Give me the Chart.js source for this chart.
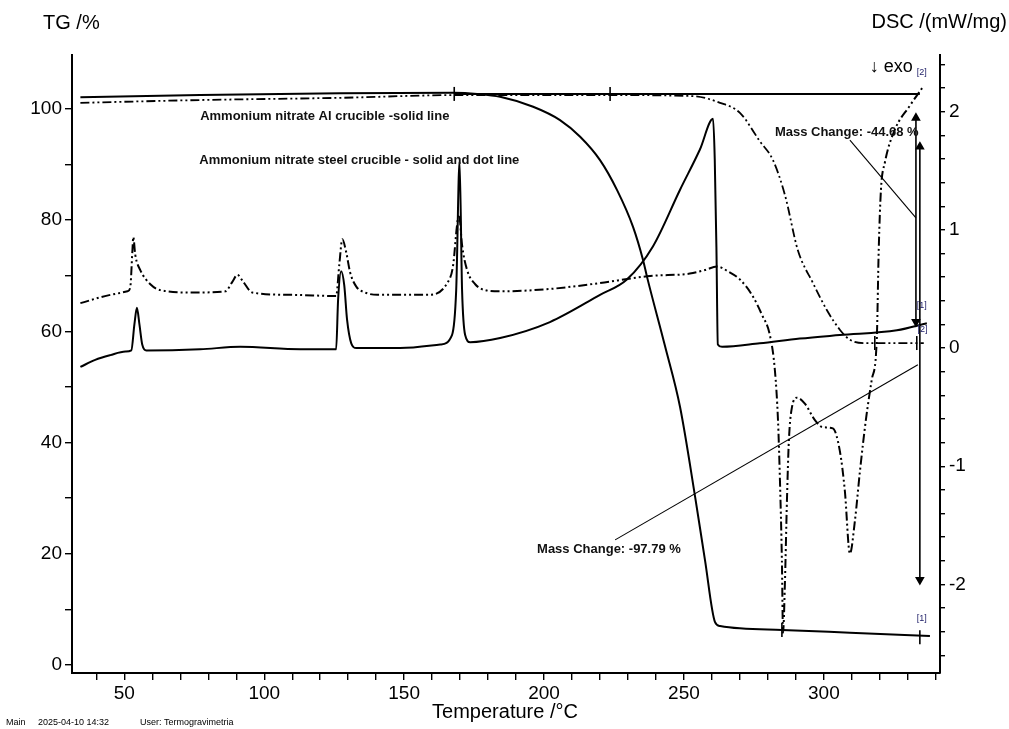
<!DOCTYPE html>
<html>
<head>
<meta charset="utf-8">
<title>TG / DSC ammonium nitrate</title>
<script src="https://cdn.jsdelivr.net/npm/chart.js@4"></script>
<style>
  html, body { margin: 0; padding: 0; background: #fff; }
  #wrap { width: 1009px; height: 729px; }
</style>
</head>
<body>
<div id="wrap"><canvas id="chart" width="1009" height="729"></canvas></div>
<script>
// TG, Al crucible (solid line)
const tgAlTemp = [34.3, 77.1, 127.1, 167.9, 176.1, 184.3, 196.1, 205.7, 212.9, 220.0, 226.1, 231.8, 235.4, 236.8, 243.2, 248.6, 254.0, 257.5, 261.1, 262.9, 285.0, 309.3, 337.9];
const tgAl     = [102.1, 102.5, 102.8, 102.9, 102.7, 102.2, 100.4, 98.0, 95.0, 90.8, 85.4, 78.8, 72.8, 69.8, 57.4, 46.4, 30.2, 18.9, 7.7, 7.0, 6.3, 5.8, 5.2];

// TG, steel crucible (dash-dot line)
const tgSteelTemp = [34.3, 77.1, 127.1, 170.0, 220.0, 253.2, 262.9, 270.0, 277.1, 281.8, 286.1, 290.7, 296.1, 301.1, 305.7, 309.3, 314.6, 335.7];
const tgSteel     = [101.1, 101.6, 102.0, 102.5, 102.5, 102.3, 101.1, 99.3, 94.2, 90.8, 84.5, 74.6, 68.7, 63.8, 60.3, 58.5, 57.9, 57.9];

// DSC, Al crucible (solid line)
const dscAlTemp = [34.3, 39.6, 45.0, 50.4, 52.5, 53.6, 54.5, 55.4, 56.4, 57.9, 77.1, 91.4, 112.9, 125.7, 126.4, 127.5, 128.6, 129.6, 131.1, 132.9, 148.6, 162.9, 167.1, 168.6, 169.8, 170.7, 171.8, 173.6, 184.3, 202.1, 220.0, 229.6, 238.9, 248.6, 255.7, 260.4, 261.0, 261.6, 262.1, 263.6, 277.1, 291.4, 305.7, 326.1, 336.8];
const dscAl     = [-0.16, -0.10, -0.06, -0.03, -0.02, 0.20, 0.34, 0.20, 0.03, -0.02, -0.01, 0.01, -0.01, -0.01, 0.41, 0.65, 0.53, 0.24, 0.04, 0.0, 0.0, 0.03, 0.11, 0.49, 1.58, 0.49, 0.11, 0.05, 0.085, 0.22, 0.45, 0.58, 0.86, 1.34, 1.68, 1.94, 1.6, 0.85, 0.03, 0.01, 0.04, 0.08, 0.11, 0.15, 0.21];

// DSC, steel crucible (dash-dot line)
const dscSteelTemp = [34.3, 45.0, 51.1, 52.1, 52.9, 53.2, 53.9, 55.7, 59.3, 62.9, 74.6, 86.1, 88.6, 90.4, 92.5, 95.7, 110.4, 125.7, 126.8, 127.9, 129.3, 130.7, 132.9, 136.1, 140.4, 158.2, 165.4, 167.5, 168.9, 169.6, 170.7, 172.5, 175.4, 179.0, 184.3, 202.1, 220.0, 237.9, 252.1, 257.5, 261.8, 265.7, 270.0, 274.3, 277.9, 280.7, 282.5, 283.6, 284.3, 285.0, 285.4, 286.1, 286.8, 287.5, 288.6, 290.4, 293.2, 296.8, 299.6, 303.2, 305.7, 307.5, 309.3, 311.1, 312.9, 315.0, 317.1, 318.9, 319.6, 320.4, 321.8, 325.4, 330.7, 335.7];
const dscSteel     = [0.38, 0.45, 0.48, 0.51, 0.83, 0.94, 0.79, 0.66, 0.54, 0.49, 0.47, 0.48, 0.56, 0.62, 0.56, 0.47, 0.45, 0.44, 0.70, 0.92, 0.81, 0.64, 0.52, 0.47, 0.45, 0.45, 0.55, 0.70, 1.04, 1.13, 0.87, 0.66, 0.54, 0.49, 0.48, 0.50, 0.55, 0.61, 0.63, 0.66, 0.69, 0.65, 0.58, 0.45, 0.28, 0.11, -0.19, -0.61, -1.12, -1.80, -2.41, -1.97, -1.29, -0.78, -0.50, -0.42, -0.47, -0.61, -0.67, -0.68, -0.87, -1.21, -1.74, -1.46, -1.04, -0.61, -0.27, 0.07, 0.83, 1.34, 1.57, 1.85, 2.05, 2.22];

// tick labels
const tempLabels = [50, 100, 150, 200, 250, 300];
const tgLabels = [0, 20, 40, 60, 80, 100];
const dscLabels = [-2, -1, 0, 1, 2];

// mass change evaluation (TG units)
const evalLineTemp = [167.9, 334.3];
const evalLineTg = [102.7, 102.7];
const evalMarkTemp = [167.9, 223.6, 285.0, 318.2, 333.2, 334.3];
const evalMarkTg = [102.7, 102.7, 6.3, 57.9, 57.9, 5.0];
const arrowSteelTemp = [332.9, 332.9];
const arrowSteelTg = [98.4, 61.7];
const arrowAlTemp = [334.3, 334.3];
const arrowAlTg = [93.2, 15.3];
const leaderSteelTemp = [309.3, 332.9];
const leaderSteelTg = [94.4, 80.4];
const leaderAlTemp = [225.4, 333.6];
const leaderAlTg = [22.5, 54.0];

// annotation texts
const noteTexts = ['Ammonium nitrate Al crucible -solid line', 'Ammonium nitrate steel crucible - solid and dot line', 'Mass Change: -44.68 %', 'Mass Change: -97.79 %'];
const noteTemp = [77.1, 76.8, 282.5, 197.5];
const noteTg = [98.6, 90.8, 95.7, 20.7];
const tagTexts = ['[2]', '[1]', '[2]', '[1]'];
const tagTemp = [333.2, 333.2, 333.5, 333.2];
const tagTg = [106.5, 64.7, 60.4, 8.3];

const pts = (xs, ys) => xs.map((x, i) => ({ x: x, y: ys[i] }));
const FONT = '"Liberation Sans", Arial, sans-serif';
const dashDot = [9, 3, 2, 3, 2, 3];

const curve = (data, axis, dashed, width) => ({
    data: data,
    yAxisID: axis,
    borderColor: '#000',
    borderWidth: width,
    borderDash: dashed ? dashDot : [],
    pointRadius: 0,
    cubicInterpolationMode: 'monotone',
    fill: false
});

const plain = (data, width) => ({
    data: data,
    yAxisID: 'tg',
    borderColor: '#000',
    borderWidth: width,
    pointRadius: 0,
    tension: 0,
    fill: false
});

const arrow = (data) => ({
    data: data,
    yAxisID: 'tg',
    borderColor: '#000',
    backgroundColor: '#000',
    borderWidth: 1.6,
    pointStyle: 'triangle',
    pointRadius: 4,
    pointRotation: [0, 180],
    tension: 0,
    fill: false
});

const textPlugin = {
    id: 'texts',
    afterDraw(chart) {
        const ctx = chart.ctx;
        const sx = chart.scales.x, sy = chart.scales.tg;
        ctx.save();
        ctx.fillStyle = '#000';
        ctx.textBaseline = 'middle';
        ctx.font = '20px ' + FONT;
        ctx.textAlign = 'left';
        ctx.fillText('TG /%', 43, 23);
        ctx.textAlign = 'right';
        ctx.fillText('DSC /(mW/mg)', 1007, 22);
        ctx.textAlign = 'center';
        ctx.fillText('Temperature /°C', 505, 712);

        ctx.textAlign = 'left';
        ctx.fillStyle = '#111';
        ctx.font = 'bold 13px ' + FONT;
        noteTexts.forEach((t, i) => {
            ctx.fillText(t, sx.getPixelForValue(noteTemp[i]), sy.getPixelForValue(noteTg[i]));
        });

        ctx.fillStyle = '#000';
        ctx.font = '18px ' + FONT;
        ctx.fillText('↓ exo', sx.getPixelForValue(316.4), sy.getPixelForValue(107.6));

        ctx.fillStyle = '#22226a';
        ctx.font = '9px ' + FONT;
        tagTexts.forEach((t, i) => {
            ctx.fillText(t, sx.getPixelForValue(tagTemp[i]), sy.getPixelForValue(tagTg[i]));
        });

        ctx.fillStyle = '#000';
        ctx.font = '9px ' + FONT;
        ctx.fillText('Main', 6, 723);
        ctx.fillText('2025-04-10 14:32', 38, 723);
        ctx.fillText('User: Termogravimetria', 140, 723);
        ctx.restore();
    }
};

const axisGrid = { drawOnChartArea: false, drawTicks: true, tickLength: 7, color: '#000', lineWidth: 1.4 };
const axisBorder = { display: true, color: '#000', width: 2 };
const tickFont = { family: FONT, size: 19 };

new Chart(document.getElementById('chart').getContext('2d'), {
    type: 'line',
    data: {
        datasets: [
            curve(pts(tgAlTemp, tgAl), 'tg', false, 2),
            curve(pts(tgSteelTemp, tgSteel), 'tg', true, 1.8),
            curve(pts(dscAlTemp, dscAl), 'dsc', false, 2),
            curve(pts(dscSteelTemp, dscSteel), 'dsc', true, 2),
            plain(pts(evalLineTemp, evalLineTg), 2),
            plain(pts(leaderSteelTemp, leaderSteelTg), 1.1),
            plain(pts(leaderAlTemp, leaderAlTg), 1.1),
            arrow(pts(arrowSteelTemp, arrowSteelTg)),
            arrow(pts(arrowAlTemp, arrowAlTg)),
            {
                data: pts(evalMarkTemp, evalMarkTg),
                yAxisID: 'tg',
                showLine: false,
                pointStyle: 'line',
                pointRotation: 90,
                pointRadius: 7,
                borderColor: '#000',
                borderWidth: 1.6
            }
        ]
    },
    options: {
        responsive: false,
        devicePixelRatio: 1,
        animation: false,
        layout: { padding: { top: 55, left: 0, right: 0, bottom: 0 } },
        plugins: {
            legend: { display: false },
            tooltip: { enabled: false }
        },
        scales: {
            x: {
                type: 'linear',
                position: 'bottom',
                min: 31.3,
                max: 341.5,
                afterFit: s => { s.height = 56; },
                grid: axisGrid,
                border: axisBorder,
                ticks: {
                    stepSize: 10,
                    includeBounds: false,
                    autoSkip: false,
                    maxRotation: 0,
                    padding: 2,
                    color: '#000',
                    font: tickFont,
                    callback: v => tempLabels.includes(Math.round(v)) && Math.abs(v - Math.round(v)) < 1e-6 ? String(Math.round(v)) : ''
                }
            },
            tg: {
                type: 'linear',
                position: 'left',
                min: -1.44,
                max: 109.7,
                afterFit: s => { s.width = 72; },
                grid: axisGrid,
                border: axisBorder,
                ticks: {
                    stepSize: 10,
                    includeBounds: false,
                    autoSkip: false,
                    padding: 3,
                    color: '#000',
                    font: tickFont,
                    callback: v => tgLabels.includes(v) ? String(v) : ''
                }
            },
            dsc: {
                type: 'linear',
                position: 'right',
                min: -2.75,
                max: 2.48,
                afterFit: s => { s.width = 69; },
                grid: { drawOnChartArea: false, drawTicks: true, tickLength: 5, color: '#000', lineWidth: 1.4 },
                border: axisBorder,
                ticks: {
                    stepSize: 0.2,
                    includeBounds: false,
                    autoSkip: false,
                    padding: 4,
                    color: '#000',
                    font: tickFont,
                    callback: v => {
                        const r = Math.round(v);
                        return (Math.abs(v - r) < 1e-6 && dscLabels.includes(r)) ? String(r) : '';
                    }
                }
            }
        }
    },
    plugins: [textPlugin]
});
</script>
</body>
</html>
